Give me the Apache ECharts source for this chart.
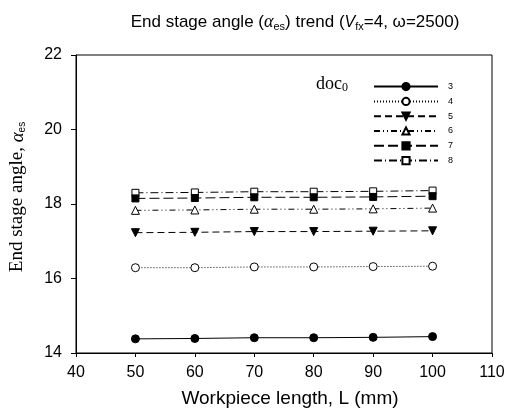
<!DOCTYPE html>
<html>
<head>
<meta charset="utf-8">
<script src="https://cdn.jsdelivr.net/npm/echarts@6/dist/echarts.min.js"></script>
<style>
  html, body { margin: 0; padding: 0; background: #fff; }
  #chart { width: 518px; height: 419px; }
</style>
</head>
<body>
<div id="chart"></div>
<script>
// Workpiece length (mm)
const lengths = [50, 60, 70, 80, 90, 100];
// Initial depth of cut values
const docLevels = ['3', '4', '5', '6', '7', '8'];
// End stage angle for each depth of cut
const doc3 = [14.38, 14.39, 14.41, 14.41, 14.42, 14.44];
const doc4 = [16.29, 16.29, 16.31, 16.31, 16.32, 16.33];
const doc5 = [17.23, 17.24, 17.26, 17.26, 17.27, 17.28];
const doc6 = [17.83, 17.84, 17.86, 17.86, 17.87, 17.89];
const doc7 = [18.15, 18.16, 18.18, 18.18, 18.19, 18.21];
const doc8 = [18.30, 18.31, 18.33, 18.33, 18.34, 18.36];
const xTicks = [40, 50, 60, 70, 80, 90, 100, 110];
const yTicks = [14, 16, 18, 20, 22];

const seriesValues = [doc3, doc4, doc5, doc6, doc7, doc8];
const styles = [
  { dash: 'solid', symbol: 'circle', size: 8, filled: true },
  { dash: [1, 2], symbol: 'circle', size: 8, filled: false },
  { dash: [7, 4], symbol: 'path://M0,0 L10,0 L5,9 Z', size: 8, filled: true },
  { dash: [6, 3, 1, 3, 1, 3], symbol: 'triangle', size: 8, filled: false },
  { dash: [10, 4], symbol: 'rect', size: 7, filled: true },
  { dash: [8, 3, 1, 3], symbol: 'rect', size: 7, filled: false }
];

const chart = echarts.init(document.getElementById('chart'), null, { renderer: 'canvas' });

const series = seriesValues.map((vals, i) => ({
  name: docLevels[i],
  type: 'line',
  data: lengths.map((x, j) => [x, vals[j]]),
  symbol: styles[i].symbol,
  symbolSize: styles[i].size,
  showAllSymbol: true,
  lineStyle: { color: '#000', width: 1, type: styles[i].dash },
  itemStyle: {
    color: styles[i].filled ? '#000' : '#fff',
    borderColor: '#000',
    borderWidth: 1
  },
  emphasis: { disabled: true },
  z: 10 - i
}));

chart.setOption({
  animation: false,
  backgroundColor: '#fff',
  title: {
    text: 'End stage angle ({a|α}{s|es}) trend ({i|V}{s|fx}=4, ω=2500)',
    left: 290,
    textAlign: 'center',
    top: 8,
    textStyle: {
      fontFamily: 'Liberation Sans, Arial',
      fontSize: 17,
      fontWeight: 'normal',
      color: '#000',
      rich: {
        a: { fontFamily: 'Liberation Serif', fontStyle: 'italic', fontSize: 18, color: '#000' },
        i: { fontFamily: 'Liberation Sans', fontStyle: 'italic', fontSize: 16, color: '#000' },
        s: { fontFamily: 'Liberation Sans', fontSize: 11, verticalAlign: 'bottom', padding: [8, 0, 0, 0], color: '#000' }
      }
    }
  },
  grid: {
    left: 76, right: 26, top: 55, bottom: 66,
    outerBoundsMode: 'none',
    containLabel: false,
    show: true, borderColor: '#000', borderWidth: 1
  },
  legend: {
    orient: 'vertical',
    left: 368,
    top: 77,
    itemWidth: 64,
    itemHeight: 9,
    itemGap: 5.6,
    data: docLevels,
    textStyle: { fontFamily: 'Liberation Sans, Arial', fontSize: 9, color: '#000', padding: [0, 0, 0, 5] }
  },
  graphic: [{
    type: 'text',
    left: 316,
    top: 75,
    style: {
      text: 'doc{s|0}',
      fontFamily: 'Liberation Serif, Times New Roman',
      fontSize: 18,
      fill: '#000',
      rich: {
        s: { fontFamily: 'Liberation Serif', fontSize: 12, verticalAlign: 'bottom', padding: [8, 0, 0, 0], fill: '#000' }
      }
    }
  }],
  xAxis: {
    type: 'value',
    min: 40,
    max: 110,
    interval: 10,
    name: 'Workpiece length, L (mm)',
    nameLocation: 'middle',
    nameGap: 36,
    nameTextStyle: { fontFamily: 'Liberation Sans, Arial', fontSize: 19, color: '#000', padding: [0, 0, 0, 12] },
    axisLine: { lineStyle: { color: '#000', width: 1 } },
    axisTick: { show: true, inside: false, length: 4, lineStyle: { color: '#000' } },
    axisLabel: { fontFamily: 'Liberation Sans, Arial', fontSize: 16, color: '#000', margin: 12 },
    splitLine: { show: false }
  },
  yAxis: {
    type: 'value',
    min: 14,
    max: 22,
    interval: 2,
    name: 'End stage angle, {a|α}{s|es}',
    nameLocation: 'middle',
    nameGap: 49,
    nameRotate: 90,
    nameTextStyle: {
      fontFamily: 'Liberation Serif, Times New Roman',
      fontSize: 19,
      color: '#000',
      padding: [0, 0, 0, 14],
      rich: {
        a: { fontFamily: 'Liberation Serif', fontStyle: 'italic', fontSize: 19, color: '#000' },
        s: { fontFamily: 'Liberation Sans', fontSize: 10, verticalAlign: 'bottom', padding: [7, 0, 0, 0], color: '#000' }
      }
    },
    axisLine: { show: true, lineStyle: { color: '#000', width: 1 } },
    axisTick: { show: true, inside: false, length: 5, lineStyle: { color: '#000' } },
    axisLabel: { fontFamily: 'Liberation Sans, Arial', fontSize: 16, color: '#000', margin: 14 },
    splitLine: { show: false }
  },
  series: series
});
</script>
</body>
</html>
